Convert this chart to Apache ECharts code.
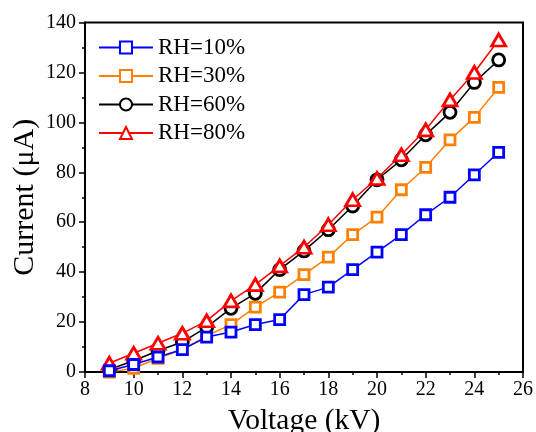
<!DOCTYPE html>
<html>
<head>
<meta charset="utf-8">
<script src="https://cdn.jsdelivr.net/npm/echarts@6/dist/echarts.min.js"></script>
<style>
html,body{margin:0;padding:0;background:#fff;}
#chart{width:536px;height:432px;}
</style>
</head>
<body>
<div id="chart"></div>
<script>
var voltage = [9,10,11,12,13,14,15,16,17,18,19,20,21,22,23,24,25];
var rh10 = [0.5,3,6,9,14,16,19,21,31,34,41,48,55,63,70,79,88];
var rh30 = [0,1.5,5.5,9,14.5,19,26,32,39,46,55,62,73,82,93,102,114];
var rh60 = [1,4.5,8.5,12,18,25.5,31.5,41,48.5,57,66.5,77,85,95,104,116,125];
var rh80 = [3.5,7.5,11.5,15.5,20.5,28.5,35,42.5,50,59,69,77.5,87,97,109,120,133];
var seriesNames = ['RH=10%','RH=30%','RH=60%','RH=80%'];
var xTitle = 'Voltage (kV)';
var yTitle = 'Current (\u03bcA)';

var FONT = 'Liberation Serif';
function pairs(ys){ return voltage.map(function(v,i){ return [v, ys[i]]; }); }
function mk(name, ys, color, symbol, size, z){
  return {
    name: name, type: 'line', data: pairs(ys), color: color,
    symbol: symbol, symbolSize: size, z: z,
    lineStyle: {color: color, width: 1.5},
    itemStyle: {color: '#fff', borderColor: color, borderWidth: 2.8},
    emphasis: {disabled: true}, animation: false
  };
}
var chart = echarts.init(document.getElementById('chart'), null, {renderer:'canvas'});
chart.setOption({
  backgroundColor: '#fff',
  animation: false,
  grid: {left: 85, right: 13, top: 22.5, bottom: 60, containLabel: false, outerBoundsMode: 'none',
         show: true, borderColor: '#000', borderWidth: 2, backgroundColor: 'transparent'},
  legend: {
    left: 98, top: 36, orient: 'vertical', padding: 0,
    itemWidth: 54, itemHeight: 15, itemGap: 5.5,
    data: seriesNames,
    textStyle: {fontFamily: FONT, fontSize: 23, color: '#000', lineHeight: 23},
    lineStyle: {width: 2}
  },
  xAxis: {
    type: 'value', min: 8, max: 26, interval: 2,
    name: xTitle, nameLocation: 'middle', nameGap: 34, nameMoveOverlap: false,
    nameTextStyle: {fontFamily: FONT, fontSize: 29.5, color: '#000'},
    axisLine: {onZero: false, lineStyle: {color: '#000', width: 2}},
    axisTick: {inside: false, length: 6, lineStyle: {color: '#000', width: 1.5}},
    minorTick: {show: true, splitNumber: 2, length: 3, lineStyle: {color: '#000', width: 1.5}},
    axisLabel: {fontFamily: FONT, fontSize: 20, color: '#000', margin: 8},
    splitLine: {show: false}
  },
  yAxis: {
    type: 'value', min: 0, max: 140, interval: 20,
    name: yTitle, nameLocation: 'middle', nameGap: 45, nameMoveOverlap: false,
    nameTextStyle: {fontFamily: FONT, fontSize: 30, color: '#000'},
    axisLine: {onZero: false, lineStyle: {color: '#000', width: 2}},
    axisTick: {inside: false, length: 6, lineStyle: {color: '#000', width: 1.5}},
    minorTick: {show: true, splitNumber: 2, length: 3, lineStyle: {color: '#000', width: 1.5}},
    axisLabel: {fontFamily: FONT, fontSize: 20, color: '#000', margin: 9},
    splitLine: {show: false}
  },
  series: [
    mk(seriesNames[0], rh10, '#0000ff', 'rect', 10, 6),
    mk(seriesNames[1], rh30, '#ff8000', 'rect', 10, 3),
    mk(seriesNames[2], rh60, '#000000', 'circle', 12, 4),
    mk(seriesNames[3], rh80, '#ff0000', 'triangle', [14,12], 5)
  ]
});
</script>
</body>
</html>
